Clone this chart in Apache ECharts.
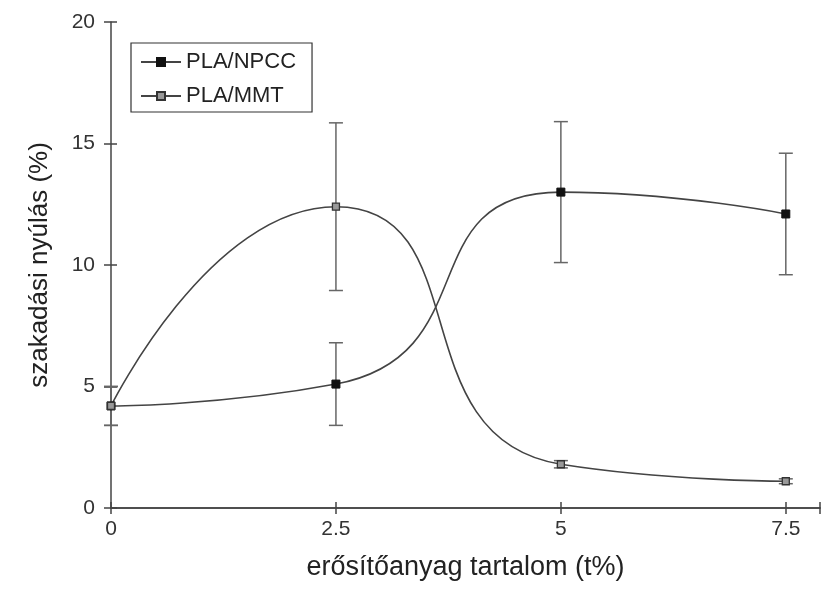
<!DOCTYPE html>
<html><head><meta charset="utf-8">
<script src="https://cdn.jsdelivr.net/npm/echarts@6/dist/echarts.min.js"></script>
<style>html,body{margin:0;padding:0;background:#fff}#c{width:823px;height:590px}</style>
</head><body><div id="c"></div>
<script>
const xValues = [0, 2.5, 5, 7.5];
const npccMean = [4.2, 5.1, 13.0, 12.1];
const npccErr = [0.8, 1.7, 2.9, 2.5];
const mmtMean = [4.2, 12.4, 1.8, 1.1];
const mmtErr = [0.8, 3.45, 0.15, 0.1];
const xTicks = [0, 2.5, 5, 7.5];
const yTicks = [0, 5, 10, 15, 20];

const lineColor = '#444';
const font = 'Liberation Sans, Arial, sans-serif';
const axisCol = '#444';

function errData(mean, err) {
  return xValues.map((x, i) => [x, mean[i] - err[i], mean[i] + err[i]]);
}
function errSeries(mean, err) {
  return {
    type: 'custom', silent: true, z: 1,
    data: errData(mean, err),
    renderItem: function (params, api) {
      const x = api.value(0);
      const lo = api.coord([x, api.value(1)]);
      const hi = api.coord([x, api.value(2)]);
      const w = 7;
      const st = { stroke: '#666', lineWidth: 1.5 };
      return { type: 'group', children: [
        { type: 'line', shape: { x1: lo[0], y1: lo[1], x2: hi[0], y2: hi[1] }, style: st },
        { type: 'line', shape: { x1: lo[0] - w, y1: lo[1], x2: lo[0] + w, y2: lo[1] }, style: st },
        { type: 'line', shape: { x1: hi[0] - w, y1: hi[1], x2: hi[0] + w, y2: hi[1] }, style: st }
      ]};
    }
  };
}

const chart = echarts.init(document.getElementById('c'), null, { renderer: 'canvas' });
chart.setOption({
  backgroundColor: '#fff',
  animation: false,
  grid: { left: 111, top: 22, right: 0, bottom: 82 },
  legend: {
    left: 131, top: 43, orient: 'vertical',
    padding: [8, 16, 5, 9],
    itemGap: 12,
    itemWidth: 40, itemHeight: 10,
    borderColor: '#333', borderWidth: 1.2,
    textStyle: { fontFamily: font, fontSize: 22, color: '#222' },
    data: ['PLA/NPCC', 'PLA/MMT']
  },
  xAxis: [{
    type: 'value', min: 0, max: 7.88, interval: 2.5,
    name: 'erősítőanyag tartalom (t%)', nameLocation: 'middle', nameGap: 46,
    nameTextStyle: { fontFamily: font, fontSize: 27, color: '#222' },
    axisLine: { lineStyle: { color: axisCol, width: 1.5 } },
    axisTick: { length: 6, lineStyle: { color: axisCol, width: 1.5 } },
    axisLabel: { fontFamily: font, fontSize: 21, color: '#333', margin: 11,
      formatter: v => xTicks.includes(v) ? String(v) : '' },
    splitLine: { show: false }
  }, {
    type: 'value', position: 'top', min: 0, max: 7.88,
    axisLine: { show: true, lineStyle: { color: axisCol, width: 1.5 } },
    axisTick: { show: false }, axisLabel: { show: false }, splitLine: { show: false }
  }, {
    type: 'value', position: 'bottom', min: 0, max: 7.88, interval: 2.5,
    axisLine: { show: false },
    axisTick: { show: true, inside: true, length: 6, lineStyle: { color: axisCol, width: 1.5 } },
    axisLabel: { show: false }, splitLine: { show: false }
  }],
  yAxis: [{
    type: 'value', min: 0, max: 20, interval: 5,
    name: 'szakadási nyúlás (%)', nameLocation: 'middle', nameGap: 58,
    nameTextStyle: { fontFamily: font, fontSize: 26, color: '#222' },
    axisLine: { show: true, lineStyle: { color: axisCol, width: 1.5 } },
    axisTick: { show: true, length: 7, lineStyle: { color: axisCol, width: 1.5 } },
    axisLabel: { fontFamily: font, fontSize: 21, color: '#333', margin: 16,
      formatter: v => yTicks.includes(v) ? String(v) : '' },
    splitLine: { show: false }
  }, {
    type: 'value', position: 'left', min: 0, max: 20, interval: 5,
    axisLine: { show: false },
    axisTick: { show: true, inside: true, length: 6, lineStyle: { color: axisCol, width: 1.5 } },
    axisLabel: { show: false }, splitLine: { show: false }
  }],
  series: [
    errSeries(npccMean, npccErr),
    errSeries(mmtMean, mmtErr),
    {
      name: 'PLA/NPCC', type: 'line', smooth: 0.6, z: 3,
      data: xValues.map((x, i) => [x, npccMean[i]]),
      symbol: 'rect', symbolSize: 8,
      lineStyle: { color: lineColor, width: 1.6 },
      itemStyle: { color: '#111', borderColor: '#111', borderWidth: 1 }
    },
    {
      name: 'PLA/MMT', type: 'line', smooth: 0.6, z: 3,
      data: xValues.map((x, i) => [x, mmtMean[i]]),
      symbol: 'rect', symbolSize: 7,
      lineStyle: { color: lineColor, width: 1.6 },
      itemStyle: { color: '#999', borderColor: '#333', borderWidth: 1.3 }
    }
  ]
});
</script></body></html>
